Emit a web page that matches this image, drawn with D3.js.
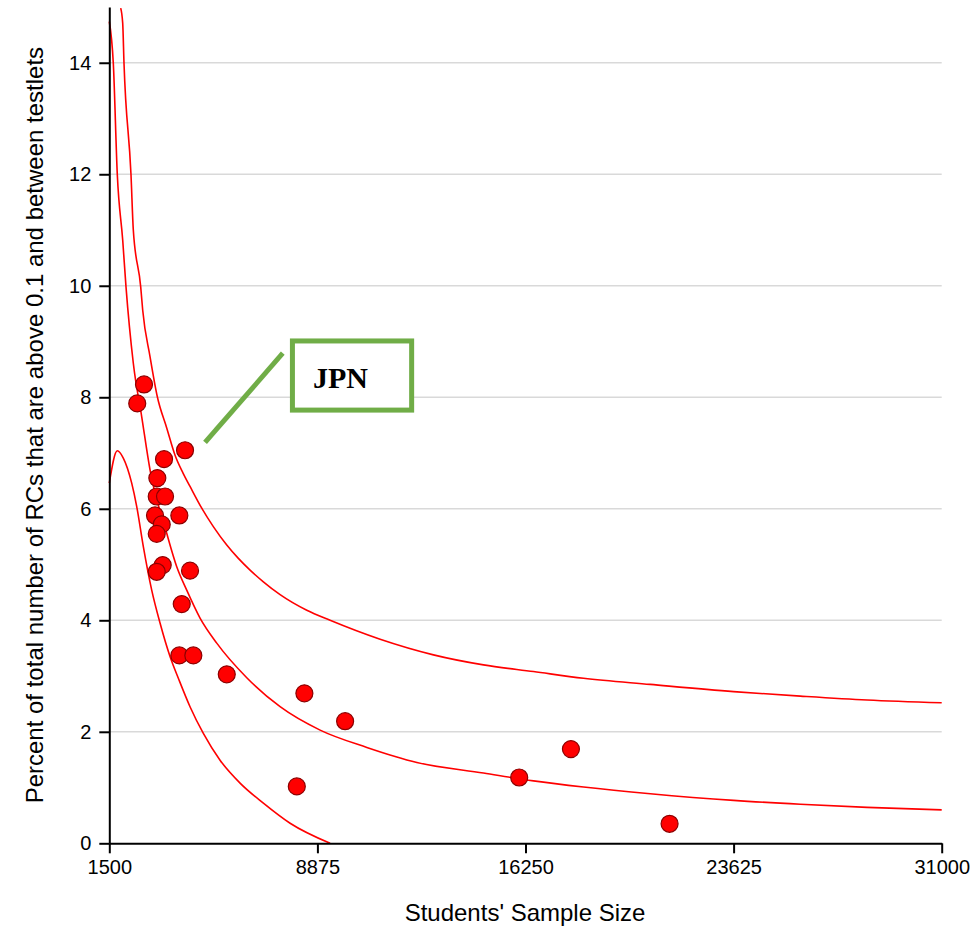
<!DOCTYPE html>
<html>
<head>
<meta charset="utf-8">
<script src="https://cdn.jsdelivr.net/npm/d3@7"></script>
<style>
  html, body { margin: 0; padding: 0; background: #ffffff; }
  svg { display: block; }
  text { font-family: Arial, "Liberation Sans", sans-serif; }
</style>
</head>
<body>
<div id="chart"></div>
<script>
// ---------- data ----------
const xTicks = [1500, 8875, 16250, 23625, 31000];
const yTicks = [0, 2, 4, 6, 8, 10, 12, 14];
const xTitle = "Students' Sample Size";
const yTitle = "Percent of total number of RCs that are above 0.1 and between testlets";

// countries: sample size, percent
const sampleSize = [2490, 2730, 4184, 3440, 3202, 3181, 3475, 3120, 3982, 3358, 3181, 3393, 3181, 4361, 4067, 3982, 4478, 5663, 8414, 9857, 8145, 16027, 17860, 21356];
const percentVal = [7.89, 8.23, 7.05, 6.89, 6.55, 6.22, 6.22, 5.88, 5.88, 5.72, 5.55, 4.99, 4.87, 4.89, 4.29, 3.37, 3.37, 3.03, 2.69, 2.19, 1.02, 1.18, 1.69, 0.35];

// funnel limits
const upperX = [1904, 1975, 2021, 2269, 2351, 2613, 2684, 2943, 3202, 3535, 3830, 4113, 4361, 4776, 5187, 5663, 6074, 6489, 6960, 7553, 8499, 9325, 11098, 12988, 14761, 16534, 18307, 20672, 23625, 25990, 28355, 31000];
const upperY = [14.98, 14.71, 13.99, 11.99, 11.00, 9.98, 9.56, 8.73, 8.01, 7.45, 6.96, 6.64, 6.40, 6.01, 5.68, 5.35, 5.11, 4.90, 4.69, 4.46, 4.18, 4.00, 3.66, 3.38, 3.20, 3.08, 2.96, 2.85, 2.72, 2.64, 2.57, 2.52];

const middleX = [1500, 1642, 1784, 1975, 2092, 2351, 2649, 2943, 3535, 3890, 4244, 4716, 5308, 6372, 7553, 8971, 10627, 12400, 14761, 16534, 18307, 20672, 23625, 25990, 28355, 31000];
const middleY = [14.74, 13.99, 11.99, 10.82, 9.98, 8.61, 7.65, 6.70, 5.56, 4.96, 4.54, 4.04, 3.59, 2.97, 2.45, 2.03, 1.72, 1.45, 1.26, 1.12, 1.01, 0.89, 0.77, 0.70, 0.645, 0.60];

const lowerX = [1500, 1784, 1996, 2294, 2472, 2706, 3003, 3298, 3652, 3971, 4361, 4833, 5425, 6134, 6960, 7907, 9325];
const lowerY = [6.46, 7.04, 6.91, 6.46, 6.04, 5.32, 4.54, 3.95, 3.35, 2.93, 2.45, 1.97, 1.49, 1.08, 0.72, 0.36, 0.0];

// annotation
const noteLabel = "JPN";
const noteLeader = [[4893, 7.19], [7648, 8.79]];
const noteBox = { x0: 7990, x1: 12215, y0: 7.77, y1: 9.01 };
const noteText = [8720, 8.17];

// ---------- layout ----------
const W = 979, H = 931;
const mLeft = 109.3, mRight = 941.7, mTop = 7, mBottom = 843.3;

const svg = d3.select("#chart").append("svg").attr("width", W).attr("height", H);

const x = d3.scaleLinear().domain([1500, 31000]).range([mLeft, mRight]);
const y = d3.scaleLinear().domain([0, 15]).range([mBottom, mTop]);

// gridlines
svg.append("g").selectAll("line")
  .data(yTicks.filter(d => d > 0))
  .join("line")
  .attr("x1", mLeft).attr("x2", mRight)
  .attr("y1", d => y(d)).attr("y2", d => y(d))
  .attr("stroke", "#d9d9d9").attr("stroke-width", 1.5);

// curves
const line = d3.line().x(d => x(d[0])).y(d => y(d[1])).curve(d3.curveMonotoneX);
const curves = [
  d3.zip(upperX, upperY),
  d3.zip(middleX, middleY),
  d3.zip(lowerX, lowerY)
];
svg.append("g").selectAll("path")
  .data(curves)
  .join("path")
  .attr("d", line)
  .attr("fill", "none")
  .attr("stroke", "#ff0000")
  .attr("stroke-width", 1.6);

// annotation
svg.append("line")
  .attr("x1", x(noteLeader[0][0])).attr("y1", y(noteLeader[0][1]))
  .attr("x2", x(noteLeader[1][0])).attr("y2", y(noteLeader[1][1]))
  .attr("stroke", "#70ad47").attr("stroke-width", 5);
svg.append("rect")
  .attr("x", x(noteBox.x0)).attr("y", y(noteBox.y1))
  .attr("width", x(noteBox.x1) - x(noteBox.x0))
  .attr("height", y(noteBox.y0) - y(noteBox.y1))
  .attr("fill", "#ffffff")
  .attr("stroke", "#70ad47").attr("stroke-width", 5);
svg.append("text")
  .attr("x", x(noteText[0])).attr("y", y(noteText[1]))
  .style("font-family", "'Times New Roman', 'Liberation Serif', serif")
  .attr("font-weight", "bold")
  .attr("font-size", 30)
  .attr("fill", "#000")
  .text(noteLabel);

// dots
svg.append("g").selectAll("circle")
  .data(d3.zip(sampleSize, percentVal))
  .join("circle")
  .attr("cx", d => x(d[0])).attr("cy", d => y(d[1]))
  .attr("r", 8.5)
  .attr("fill", "#ff0000")
  .attr("stroke", "#8b0000")
  .attr("stroke-width", 1.2);

// axes
const xAxis = svg.append("g")
  .attr("transform", `translate(0,${mBottom})`)
  .call(d3.axisBottom(x).tickValues(xTicks).tickFormat(d3.format("d")).tickSize(10).tickPadding(7).tickSizeOuter(0));
const yAxis = svg.append("g")
  .attr("transform", `translate(${mLeft},0)`)
  .call(d3.axisLeft(y).tickValues(yTicks).tickSize(10).tickPadding(8).tickSizeOuter(0));

[xAxis, yAxis].forEach(g => {
  g.select(".domain").attr("stroke", "#000").attr("stroke-width", 2);
  g.selectAll(".tick line").attr("stroke", "#000").attr("stroke-width", 2);
  g.selectAll(".tick text").attr("fill", "#000").attr("font-size", 20)
    .attr("font-family", "Arial, 'Liberation Sans', sans-serif");
});

// titles
svg.append("text")
  .attr("x", 525).attr("y", 921)
  .attr("text-anchor", "middle")
  .attr("font-size", 24)
  .attr("fill", "#000")
  .text(xTitle);
svg.append("text")
  .attr("transform", `translate(43,${(mTop + mBottom) / 2}) rotate(-90)`)
  .attr("text-anchor", "middle")
  .attr("font-size", 24)
  .attr("fill", "#000")
  .text(yTitle);
</script>
</body>
</html>
